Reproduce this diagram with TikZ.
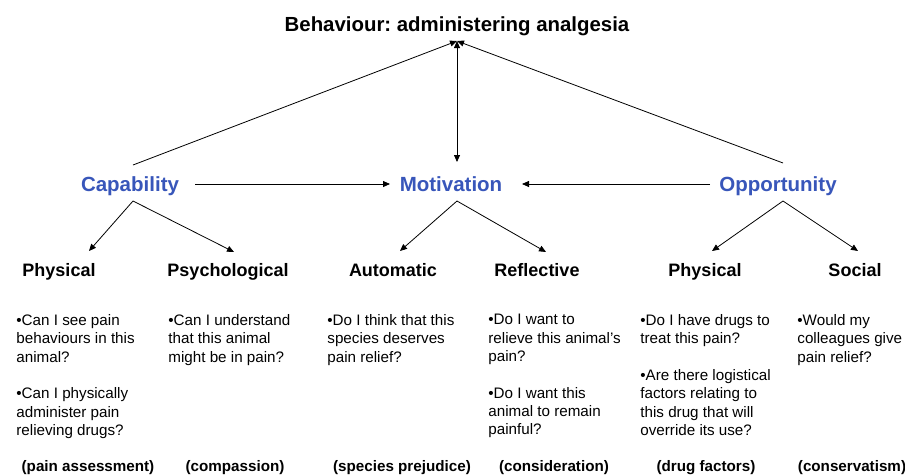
\documentclass[tikz,border=0pt]{standalone}
\usepackage{fontspec}
\setmainfont{Liberation Sans}
\usetikzlibrary{arrows.meta,positioning}
\definecolor{combblue}{RGB}{56,86,186}
\frenchspacing

\begin{document}
\begin{tikzpicture}[x=1pt,y=-1pt,line width=0.8pt,
    >={Triangle[length=7pt,width=6pt]},
    com/.style={font=\fontsize{20.5}{24}\selectfont\bfseries,text=combblue,anchor=base},
    sub/.style={font=\fontsize{18}{21}\selectfont\bfseries,anchor=base},
    qs/.style={font=\fontsize{15.2}{18.4}\selectfont,align=left,anchor=north west,inner sep=0pt},
    tag/.style={font=\fontsize{15.2}{18}\selectfont\bfseries,anchor=base}]
    \useasboundingbox (0,0) rectangle (905,475);
    % Behaviour
    \node[font=\fontsize{20.4}{24}\selectfont\bfseries,anchor=base] (beh) at (457,31) {Behaviour: administering analgesia};
    \coordinate (top) at (457,41);
    % COM
    \node[com] (cap) at (130,191) {Capability};
    \node[com] (mot) at (451,191) {Motivation};
    \node[com] (opp) at (778,191) {Opportunity};
    \draw[->] (133,165) -- (top);
    \draw[->] (783,163) -- (top);
    \draw[<->] (457,162) -- (top);
    \coordinate (capr) at (195,184);
    \coordinate (motl) at (390,184);
    \coordinate (motr) at (522,184);
    \coordinate (oppl) at (710,184);
    \draw[->] (capr) -- (motl);
    \draw[->] (oppl) -- (motr);
    % branches
    \coordinate (capb) at (133,201);
    \coordinate (motb) at (457,201);
    \coordinate (oppb) at (783,201);
    \node[sub] (phys) at (59,276) {Physical};
    \node[sub] (psych) at (228,276) {Psychological};
    \node[sub] (auto) at (393,276) {Automatic};
    \node[sub] (refl) at (537,276) {Reflective};
    \node[sub] (phys2) at (705,276) {Physical};
    \node[sub] (soc) at (855,276) {Social};
    \draw[->] (capb) -- (89,251);
    \draw[->] (capb) -- (234,252);
    \draw[->] (motb) -- (400,251);
    \draw[->] (motb) -- (546,252);
    \draw[->] (oppb) -- (712,251);
    \draw[->] (oppb) -- (858,251);
    % questions
    \node[qs] (qphys) at (16,314) {•Can I see pain\\behaviours in this\\animal?\\[18pt]•Can I physically\\administer pain\\relieving drugs?};
    \node[qs] (qpsych) at (168,314) {•Can I understand\\that this animal\\might be in pain?};
    \node[qs] (qauto) at (327,314) {•Do I think that this\\species deserves\\pain relief?};
    \node[qs] (qrefl) at (488,314) {•Do I want to\\relieve this animal’s\\pain?\\[18pt]•Do I want this\\animal to remain\\painful?};
    \node[qs] (qphys2) at (640,314) {•Do I have drugs to\\treat this pain?\\[18pt]•Are there logistical\\factors relating to\\this drug that will\\override its use?};
    \node[qs] (qsoc) at (797,314) {•Would my\\colleagues give\\pain relief?};
    % bottom tags
    \node[tag] (tphys) at (88,471) {(pain assessment)};
    \node[tag] (tpsych) at (235,471) {(compassion)};
    \node[tag] (tauto) at (402,471) {(species prejudice)};
    \node[tag] (trefl) at (554,471) {(consideration)};
    \node[tag] (tphys2) at (706,471) {(drug factors)};
    \node[tag] (tsoc) at (852,471) {(conservatism)};
\end{tikzpicture}
\end{document}
